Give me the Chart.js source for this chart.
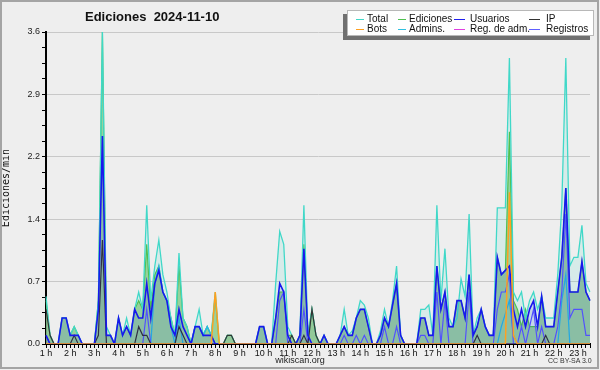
<!DOCTYPE html>
<html>
<head>
<meta charset="utf-8">
<script src="https://cdn.jsdelivr.net/npm/chart.js@4.4.1/dist/chart.umd.min.js"></script>
<style>
  html, body { margin: 0; padding: 0; background: #eeeeee; }
  #wrap { position: relative; width: 600px; height: 370px; overflow: hidden; }
  #wrap canvas { position: absolute; left: 0; top: 0; }
  #frame { position: absolute; left: 0; top: 0; width: 595px; height: 365px; border: 2px solid #a4a4a4; pointer-events: none; }
  #title { position: absolute; left: 85px; top: 9px; font: bold 13px "Liberation Sans", Arial, sans-serif; white-space: pre; color: #111; }
  #legend { position: absolute; left: 347px; top: 10px; width: 245px; height: 24px; background: #fff; border: 1px solid #b8b8b8; box-shadow: -4px 4px 0 #707070; }
  .sw { position: absolute; height: 0; border-top: 1.5px solid; }
  .lt { position: absolute; font: 10px "Liberation Sans", Arial, sans-serif; color: #111; white-space: nowrap; line-height: 10px; }
  #site { position: absolute; left: 0; width: 600px; top: 355px; text-align: center; font: 9px "Liberation Sans", Arial, sans-serif; color: #222; }
  #lic { position: absolute; left: 548px; top: 357px; font: 7px "Liberation Sans", Arial, sans-serif; color: #333; white-space: nowrap; }
</style>
</head>
<body>
<div id="wrap">
  <canvas id="chart" width="600" height="370"></canvas>
  <div id="title">Ediciones  2024-11-10</div>
  <div id="legend"></div>
  <div id="site">wikiscan.org</div>
  <div id="lic">CC BY-SA 3.0</div>
  <div id="frame"></div>
</div>
<script>
// 10-minute slots from 1:00 to 23:30
const hours = [1, 2, 3, 4, 5, 6, 7, 8, 9, 10, 11, 12, 13, 14, 15, 16, 17, 18, 19, 20, 21, 22, 23];
const minutes = ['00', '10', '20', '30', '40', '50'];
const slots = [];
hours.forEach((h) => minutes.forEach((m) => slots.push(h + ':' + m)));
slots.length = 136;

const total = [
  0.55, 0.1, 0, 0, 0.3, 0.3, 0.1, 0.2, 0.1, 0,
  0, 0, 0, 0.5, 3.6, 0.2, 0.1, 0, 0.3, 0.1,
  0.3, 0.1, 0.4, 0.6, 0.4, 1.6, 0.5, 0.9, 1.2, 0.8,
  0.6, 0.3, 0.1, 1.05, 0.3, 0.2, 0, 0.2, 0.4, 0.1,
  0.2, 0.1, 0.6, 0, 0, 0.1, 0.1, 0, 0, 0,
  0, 0, 0, 0.2, 0.2, 0, 0, 0.7, 1.3, 1.15,
  0.2, 0.1, 0, 0.1, 1.6, 0.1, 0.4, 0.1, 0, 0.1,
  0, 0, 0, 0.1, 0.4, 0.1, 0.15, 0.3, 0.5, 0.45,
  0.3, 0, 0, 0.15, 0.4, 0.2, 0.5, 0.9, 0.1, 0,
  0, 0, 0, 0.4, 0.4, 0.45, 0.1, 1.6, 0.5, 1.1,
  0.3, 0.2, 0.3, 0.75, 0.55, 1.5, 0.1, 0.3, 0.4, 0.2,
  0.1, 0.1, 1.57, 1.57, 1.57, 3.3, 0.6, 0.5, 0.6, 0.3,
  0.5, 0.6, 0.4, 0.55, 0.3, 0.3, 0.3, 0.8, 1.6, 3.3,
  0.9, 1.0, 1.0, 1.37, 0.7, 0.6
];
const ediciones = [
  0.5, 0.1, 0, 0, 0.3, 0.3, 0.1, 0.2, 0.1, 0,
  0, 0, 0, 0.5, 3.6, 0.1, 0.1, 0, 0.3, 0.1,
  0.2, 0.1, 0.4, 0.5, 0.4, 1.15, 0.4, 0.8, 0.9, 0.6,
  0.5, 0.3, 0.1, 0.9, 0.3, 0.2, 0, 0.2, 0.2, 0.1,
  0.2, 0.1, 0.55, 0, 0, 0.1, 0.1, 0, 0, 0,
  0, 0, 0, 0.2, 0.2, 0, 0, 0.3, 0.6, 0.6,
  0.1, 0.1, 0, 0.1, 1.15, 0.1, 0.4, 0.1, 0, 0.1,
  0, 0, 0, 0.1, 0.2, 0.1, 0.1, 0.3, 0.4, 0.4,
  0.2, 0, 0, 0.1, 0.3, 0.2, 0.45, 0.7, 0.1, 0,
  0, 0, 0, 0.3, 0.3, 0.1, 0.1, 0.9, 0.4, 0.6,
  0.2, 0.2, 0.5, 0.5, 0.3, 0.8, 0.1, 0.2, 0.4, 0.2,
  0.1, 0.1, 1.0, 0.8, 0.85, 2.45, 0.5, 0.4, 0.2, 0.4,
  0.2, 0.2, 0.2, 0.55, 0.2, 0.2, 0.2, 0.6, 1.0, 1.8,
  0.6, 0.6, 0.6, 0.95, 0.6, 0.5
];
const usuarios = [
  0.1, 0, 0, 0, 0.3, 0.3, 0.1, 0.1, 0.1, 0,
  0, 0, 0, 0.4, 2.4, 0.1, 0.1, 0, 0.3, 0.1,
  0.2, 0.1, 0.4, 0.3, 0.3, 0.7, 0.3, 0.7, 0.85, 0.6,
  0.5, 0.2, 0.1, 0.4, 0.2, 0.1, 0, 0.2, 0.2, 0.1,
  0.1, 0.1, 0, 0, 0, 0, 0, 0, 0, 0,
  0, 0, 0, 0.2, 0.2, 0, 0, 0.3, 0.7, 0.6,
  0.1, 0, 0, 0.1, 1.1, 0.1, 0, 0, 0, 0.1,
  0, 0, 0, 0.1, 0.2, 0.1, 0.1, 0.3, 0.4, 0.4,
  0.2, 0, 0, 0.1, 0.3, 0.2, 0.45, 0.7, 0.1, 0,
  0, 0, 0, 0.3, 0.3, 0.1, 0.1, 0.9, 0.4, 0.6,
  0.2, 0.2, 0.5, 0.5, 0.3, 0.8, 0.1, 0.2, 0.4, 0.2,
  0.1, 0.1, 1.0, 0.8, 0.85, 0.9, 0.4, 0.2, 0.4, 0.2,
  0.4, 0.5, 0.2, 0.55, 0.2, 0.2, 0.2, 0.6, 1.0, 1.8,
  0.6, 0.6, 0.6, 0.95, 0.6, 0.5
];
const ip = [
  0.4, 0.1, 0, 0, 0, 0, 0, 0.1, 0, 0,
  0, 0, 0, 0.1, 1.2, 0, 0, 0, 0, 0,
  0, 0, 0, 0.2, 0.1, 0.1, 0, 0, 0, 0,
  0, 0, 0, 0.2, 0.1, 0, 0, 0, 0, 0,
  0, 0, 0, 0, 0, 0.1, 0.1, 0, 0, 0,
  0, 0, 0, 0, 0, 0, 0, 0, 0, 0,
  0, 0.1, 0, 0, 0.1, 0, 0.4, 0.1, 0, 0,
  0, 0, 0, 0, 0, 0, 0, 0, 0, 0,
  0, 0, 0, 0, 0, 0, 0, 0, 0, 0,
  0, 0, 0, 0, 0, 0, 0, 0, 0, 0,
  0, 0, 0, 0, 0, 0, 0, 0.1, 0, 0,
  0, 0, 0, 0, 0, 0, 0, 0, 0, 0,
  0, 0, 0, 0, 0.1, 0, 0, 0, 0, 0,
  0, 0, 0, 0, 0, 0
];
const bots = [
  0, 0, 0, 0, 0, 0, 0, 0, 0, 0,
  0, 0, 0, 0, 0, 0, 0, 0, 0, 0,
  0, 0, 0, 0, 0, 0, 0, 0, 0, 0,
  0, 0, 0, 0, 0, 0, 0, 0, 0, 0,
  0, 0, 0.6, 0, 0, 0, 0, 0, 0, 0,
  0, 0, 0, 0, 0, 0, 0, 0, 0, 0,
  0, 0, 0, 0, 0, 0, 0, 0, 0, 0,
  0, 0, 0, 0, 0, 0, 0, 0, 0, 0,
  0, 0, 0, 0, 0, 0, 0, 0, 0, 0,
  0, 0, 0, 0, 0, 0, 0, 0, 0, 0,
  0, 0, 0, 0, 0, 0, 0, 0, 0, 0,
  0, 0, 0, 0, 0, 1.75, 0.1, 0, 0, 0,
  0, 0, 0, 0, 0, 0, 0, 0, 0, 0,
  0, 0, 0, 0, 0, 0
];
const admins = [
  0, 0, 0, 0, 0, 0, 0, 0, 0, 0,
  0, 0, 0, 0, 0, 0, 0, 0, 0, 0,
  0, 0, 0, 0, 0, 0, 0, 0.7, 0.9, 0.6,
  0.5, 0.2, 0, 0.3, 0, 0, 0, 0.2, 0.2, 0.1,
  0.2, 0.1, 0, 0, 0, 0, 0, 0, 0, 0,
  0, 0, 0, 0, 0, 0, 0, 0, 0, 0,
  0, 0, 0, 0, 0, 0, 0, 0, 0, 0,
  0, 0, 0, 0, 0, 0, 0, 0, 0, 0,
  0, 0, 0, 0, 0, 0, 0, 0, 0, 0,
  0, 0, 0, 0, 0, 0, 0, 0, 0, 0,
  0, 0, 0, 0, 0, 0, 0, 0, 0, 0,
  0, 0, 0, 0.2, 0.35, 0.5, 0.1, 0, 0, 0,
  0, 0, 0, 0, 0, 0, 0, 0, 0.5, 0.8,
  0, 0, 0, 0, 0, 0
];
const regAdm = [
  0, 0, 0, 0, 0, 0, 0, 0, 0, 0,
  0, 0, 0, 0, 0, 0, 0, 0, 0, 0,
  0, 0, 0, 0, 0, 0, 0, 0, 0, 0,
  0, 0, 0, 0, 0, 0, 0, 0, 0, 0,
  0, 0, 0, 0, 0, 0, 0, 0, 0, 0,
  0, 0, 0, 0, 0, 0, 0, 0, 0, 0,
  0, 0, 0, 0, 0, 0, 0, 0, 0, 0,
  0, 0, 0, 0, 0, 0, 0, 0, 0, 0,
  0, 0, 0, 0, 0, 0, 0, 0, 0, 0,
  0, 0, 0, 0, 0, 0, 0, 0, 0, 0,
  0, 0, 0, 0, 0, 0, 0, 0, 0, 0,
  0, 0, 0, 0, 0, 0, 0, 0, 0, 0,
  0, 0, 0, 0, 0, 0, 0, 0, 0, 0,
  0, 0, 0, 0, 0, 0
];
const registros = [
  0.1, 0, 0, 0, 0, 0, 0, 0, 0, 0,
  0, 0, 0, 0, 0, 0, 0, 0, 0, 0,
  0, 0, 0, 0, 0, 0.4, 0, 0, 0, 0,
  0, 0, 0, 0, 0, 0, 0, 0, 0, 0,
  0, 0, 0, 0, 0, 0, 0, 0, 0, 0,
  0, 0, 0, 0, 0, 0, 0, 0, 0.5, 0.6,
  0, 0, 0, 0, 0.4, 0, 0, 0, 0, 0,
  0, 0, 0, 0, 0.1, 0, 0, 0.1, 0, 0.1,
  0, 0, 0, 0, 0.2, 0, 0, 0.2, 0, 0,
  0, 0, 0, 0.1, 0.1, 0, 0, 0.6, 0, 0.5,
  0, 0, 0, 0, 0, 0.6, 0, 0, 0, 0,
  0, 0, 0.4, 0.6, 0.6, 0.8, 0, 0, 0.2, 0,
  0.2, 0.4, 0, 0.2, 0, 0, 0, 0.2, 0.6, 1.5,
  0.3, 0.4, 0.4, 0.4, 0.1, 0.1
];

const yTicks = [0, 0.18, 0.36, 0.54, 0.72, 0.9, 1.08, 1.26, 1.44, 1.62, 1.8,
  1.98, 2.16, 2.34, 2.52, 2.7, 2.88, 3.06, 3.24, 3.42, 3.6];

const legendItems = [
  { label: 'Total', color: '#40d8c8' },
  { label: 'Ediciones', color: '#50c050' },
  { label: 'Usuarios', color: '#2020ee' },
  { label: 'IP', color: '#333333' },
  { label: 'Bots', color: '#ffa020' },
  { label: 'Admins.', color: '#30c0e0' },
  { label: 'Reg. de adm.', color: '#e040e0' },
  { label: 'Registros', color: '#6060ff' },
];

// legend, 4 columns x 2 rows
const legendEl = document.getElementById('legend');
const swX = [8, 50, 106, 181];
const txX = [19, 61, 122, 198];
legendItems.forEach((item, i) => {
  const col = i % 4;
  const row = Math.floor(i / 4);
  const sw = document.createElement('div');
  sw.className = 'sw';
  sw.style.left = swX[col] + 'px';
  sw.style.width = (col < 2 ? 8 : 11) + 'px';
  sw.style.top = (8 + row * 9.5) + 'px';
  sw.style.borderColor = item.color;
  legendEl.appendChild(sw);
  const tx = document.createElement('div');
  tx.className = 'lt';
  tx.style.left = txX[col] + 'px';
  tx.style.top = (3 + row * 9.5) + 'px';
  tx.textContent = item.label;
  legendEl.appendChild(tx);
});

function line(label, data, color, width, fill) {
  return {
    label,
    data,
    borderColor: color,
    borderWidth: width,
    backgroundColor: fill || 'transparent',
    fill: fill ? 'origin' : false,
    pointRadius: 0,
    tension: 0,
  };
}

// Total is split: its fill stays at the back, its line goes above the green
new Chart(document.getElementById('chart').getContext('2d'), {
  type: 'line',
  data: {
    labels: slots,
    datasets: [
      line('Bots', bots, '#ffa020', 1.5),
      line('Usuarios', usuarios, '#1818ee', 1.6, 'rgba(30, 30, 230, 0.10)'),
      line('IP', ip, '#333333', 1.2, 'rgba(60, 60, 60, 0.06)'),
      line('Registros', registros, '#5858ff', 1.2),
      line('Reg. de adm.', regAdm, '#e040e0', 1.2),
      line('Admins.', admins, '#28b8e0', 1.3),
      line('Total', total, '#40d8c8', 1.3),
      line('Ediciones', ediciones, '#50c050', 1.2, 'rgba(140, 205, 145, 0.85)'),
      line('Total (área)', total, 'transparent', 0, 'rgba(64, 216, 200, 0.13)'),
    ],
  },
  options: {
    responsive: false,
    animation: false,
    devicePixelRatio: 1,
    layout: { padding: { left: 0, right: 10, top: 32, bottom: 0 } },
    plugins: {
      legend: { display: false },
      tooltip: { enabled: false },
    },
    scales: {
      x: {
        type: 'category',
        offset: false,
        afterFit: (scale) => { scale.height = 26; },
        border: { display: true, color: '#000', width: 2 },
        grid: { drawOnChartArea: false, tickLength: 4, tickColor: '#000', tickWidth: 1 },
        ticks: {
          autoSkip: false,
          maxRotation: 0,
          minRotation: 0,
          padding: 0,
          color: '#111',
          font: { family: 'Liberation Sans', size: 9 },
          callback(value) {
            const s = this.getLabelForValue(value);
            return s.endsWith(':00') ? s.split(':')[0] + ' h' : '';
          },
        },
      },
      y: {
        min: 0,
        max: 3.6,
        afterFit: (scale) => { scale.width = 46; },
        afterBuildTicks: (scale) => { scale.ticks = yTicks.map((v) => ({ value: v })); },
        border: { display: true, color: '#000', width: 2 },
        grid: {
          color: (ctx) => (ctx.index % 4 === 0 && ctx.index > 0 ? '#c8c8c8' : 'transparent'),
          tickColor: '#000',
          tickLength: 4,
        },
        ticks: {
          padding: 2,
          color: '#222',
          font: { family: 'Liberation Sans', size: 9 },
          callback: (value, index) => (index % 4 === 0 ? value.toFixed(1) : ''),
        },
        title: {
          display: true,
          text: 'Ediciones/min',
          color: '#111',
          padding: 0,
          font: { family: 'DejaVu Sans Mono', size: 10 },
        },
      },
    },
  },
});
</script>
</body>
</html>
